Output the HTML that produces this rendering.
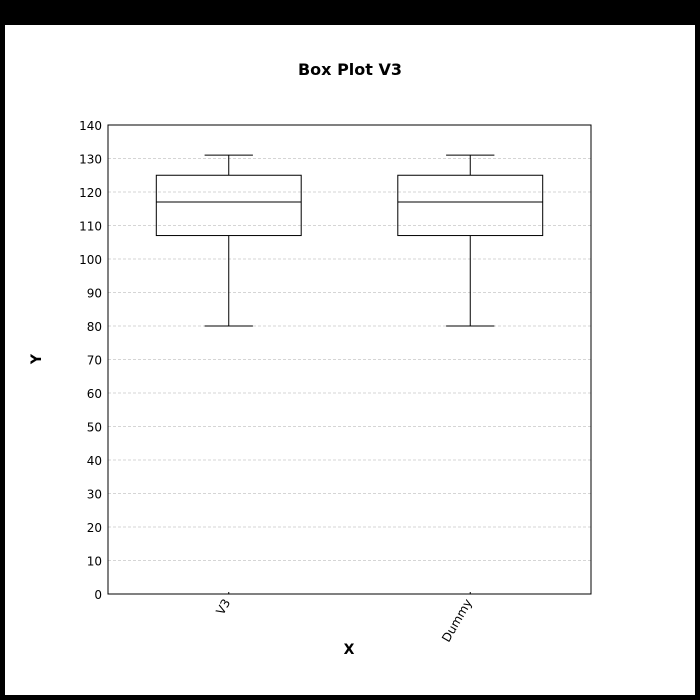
<!DOCTYPE html>
<html><head><meta charset="utf-8"><style>
html,body{margin:0;padding:0;background:#000;}
svg{display:block;font-family:"DejaVu Sans","Liberation Sans",sans-serif;}
</style></head><body>
<svg id="chart" width="700" height="700">
<rect x="5" y="25" width="690" height="670" fill="#fff"/>
<text x="350" y="75" text-anchor="middle" font-size="16" font-weight="bold">Box Plot V3</text>
<g id="grid"></g>
<g id="yticks"></g>
<g id="boxes"></g>
<g id="xticks"></g>
<rect x="108" y="125" width="483" height="469" fill="none" stroke="#000"/>
<text x="349" y="654" text-anchor="middle" font-size="14" font-weight="bold">X</text>
<text x="41" y="359" text-anchor="middle" font-size="14" font-weight="bold" transform="rotate(-90 41 359)">Y</text>
</svg>
<script>
const categories = ["V3", "Dummy"];
const mins = [80, 80];
const q1s = [107, 107];
const medians = [117, 117];
const q3s = [125, 125];
const maxs = [131, 131];
const yTicks = [0,10,20,30,40,50,60,70,80,90,100,110,120,130,140];

const L=108,R=591,T=125,B=594,yMax=140;
const y=v=>B-(v/yMax)*(B-T);
const band=(R-L)/categories.length;
const xc=i=>L+band*(i+0.5);
const NS="http://www.w3.org/2000/svg";
function mk(tag,attrs,parent){const e=document.createElementNS(NS,tag);for(const k in attrs)e.setAttribute(k,attrs[k]);parent.appendChild(e);return e;}
const grid=document.getElementById('grid'),yt=document.getElementById('yticks'),bx=document.getElementById('boxes'),xt=document.getElementById('xticks');
yTicks.forEach(v=>{
  const g=mk('line',{x1:L,x2:R,y1:y(v),y2:y(v),stroke:'#c8c8c8','stroke-dasharray':'3,2','stroke-width':0.8},grid);
  
  
  const t=mk('text',{x:L-6,y:y(v)+5,'text-anchor':'end','font-size':12},yt);
  t.textContent=v;
  
  
});
categories.forEach((c,i)=>{
  const cx=xc(i),bw=band*0.6,cw=band*0.2;
  const g=mk('g',{},bx);
  
  
  const s={stroke:'#000','stroke-width':1};
  mk('line',Object.assign({x1:cx,x2:cx,y1:y(maxs[i]),y2:y(q3s[i])},s),g);
  mk('line',Object.assign({x1:cx,x2:cx,y1:y(q1s[i]),y2:y(mins[i])},s),g);
  mk('line',Object.assign({x1:cx-cw/2,x2:cx+cw/2,y1:y(maxs[i]),y2:y(maxs[i])},s),g);
  mk('line',Object.assign({x1:cx-cw/2,x2:cx+cw/2,y1:y(mins[i]),y2:y(mins[i])},s),g);
  mk('rect',Object.assign({x:cx-bw/2,y:y(q3s[i]),width:bw,height:y(q1s[i])-y(q3s[i]),fill:'none'},s),g);
  mk('line',Object.assign({x1:cx-bw/2,x2:cx+bw/2,y1:y(medians[i]),y2:y(medians[i])},s),g);
  const tk=mk('line',{x1:cx,x2:cx,y1:B-2,y2:B,stroke:'#000'},xt);
  
  
  const t=mk('text',{x:cx+2,y:B+8,'text-anchor':'end','font-size':12,transform:`rotate(-60 ${cx+2} ${B+8})`},xt);
  t.textContent=c;
  
  
});
</script>
</body></html>
